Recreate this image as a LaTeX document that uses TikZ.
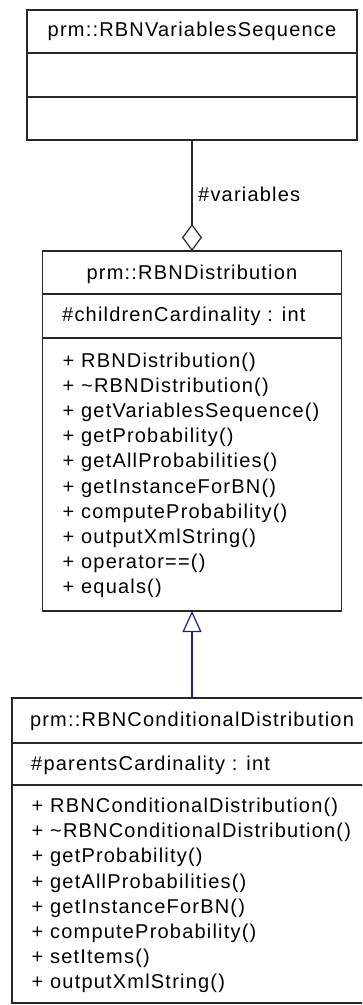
\documentclass[tikz,border=0pt]{standalone}
\usepackage{fontspec}
\setmainfont{Liberation Sans}
\newfontfamily\umlfamily[LetterSpace=6]{Liberation Sans}
\newcommand{\umltext}{\umlfamily\fontsize{20pt}{20pt}\selectfont}
\usetikzlibrary{arrows.meta}
\definecolor{inhblue}{RGB}{30,30,130}
\definecolor{umlgray}{RGB}{40,40,40}
\begin{document}
\begin{tikzpicture}[x=1pt,y=-1pt,
  umlbox/.style={draw=umlgray, line width=1.5pt, fill=white, inner sep=0pt, outer sep=0pt, anchor=north west},
  divider/.style={draw=umlgray, line width=1.3pt},
  ttl/.style={font=\umltext, inner sep=0pt, anchor=base},
  member/.style={font=\umltext, inner sep=0pt, anchor=base west},
  assoc/.style={draw=umlgray, line width=1.2pt, -{Diamond[open, length=27pt, width=20pt, line width=1.2pt]}},
  inherit/.style={draw=inhblue, line width=1.2pt, -{Triangle[open, length=21pt, width=19pt, line width=1.2pt]}}
]
\useasboundingbox (0,0) rectangle (362,1005);
\clip (0,0) rectangle (362,1005);

% Box 1
\node[umlbox, minimum width=330pt, minimum height=130pt] (seq) at (27,10) {};
\draw[divider] (seq.west |- 0,53) -- (seq.east |- 0,53);
\draw[divider] (seq.west |- 0,97) -- (seq.east |- 0,97);
\node[ttl] (seqtitle) at (192,36.5) {prm::RBNVariablesSequence};

% Box 2
\node[umlbox, minimum width=299pt, minimum height=360pt] (dist) at (42.5,251) {};
\draw[divider] (dist.west |- 0,294) -- (dist.east |- 0,294);
\draw[divider] (dist.west |- 0,338) -- (dist.east |- 0,338);
\node[ttl] (disttitle) at (192,279) {prm::RBNDistribution};
\node[member] (distattr) at (62,321.5) {\#childrenCardinality : int};
\foreach [count=\i] \t in {%
  {+ RBNDistribution()},
  {+ \textasciitilde RBNDistribution()},
  {+ getVariablesSequence()},
  {+ getProbability()},
  {+ getAllProbabilities()},
  {+ getInstanceForBN()},
  {+ computeProbability()},
  {+ outputXmlString()},
  {+ operator==()},
  {+ equals()}}
  \node[member] (dm\i) at (62.5,{367+25.2*(\i-1)}) {\t};

% Box 3
\node[umlbox, minimum width=360pt, minimum height=305pt] (cond) at (12,698) {};
\draw[divider] (cond.west |- 0,743) -- (cond.east |- 0,743);
\draw[divider] (cond.west |- 0,785) -- (cond.east |- 0,785);
\node[ttl] (condtitle) at (192,726.5) {prm::RBNConditionalDistribution};
\node[member] (condattr) at (31,770) {\#parentsCardinality : int};
\foreach [count=\i] \t in {%
  {+ RBNConditionalDistribution()},
  {+ \textasciitilde RBNConditionalDistribution()},
  {+ getProbability()},
  {+ getAllProbabilities()},
  {+ getInstanceForBN()},
  {+ computeProbability()},
  {+ setItems()},
  {+ outputXmlString()}}
  \node[member] (cm\i) at (31.5,{812.7+25.1*(\i-1)}) {\t};

% Connectors
\draw[assoc] (seq.south) -- (dist.north);
\node[member] (varlbl) at (198,201.5) {\#variables};
\draw[inherit] (cond.north) -- (dist.south);
\end{tikzpicture}
\end{document}
